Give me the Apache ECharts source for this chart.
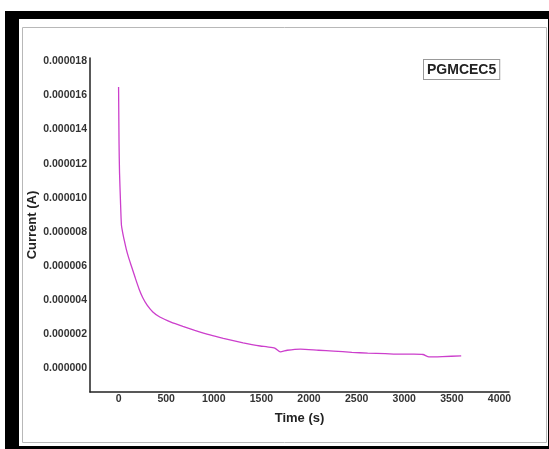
<!DOCTYPE html>
<html>
<head>
<meta charset="utf-8">
<title>PGMCEC5</title>
<script src="https://cdn.jsdelivr.net/npm/echarts@6/dist/echarts.min.js"></script>
<style>
  html, body { margin: 0; padding: 0; background: #fff; }
  #chart { width: 549px; height: 449px; }
</style>
</head>
<body>
<div id="chart"></div>
<script>
// chronoamperometry curve
const timeS = [0, 5, 10, 20, 30, 45, 60, 80, 105, 137, 175, 215, 253, 300, 360, 433, 550, 675, 800, 960, 1100, 1308, 1400, 1488, 1561, 1640, 1699, 1772, 1910, 2100, 2258, 2450, 2616, 2800, 2965, 3100, 3197, 3260, 3400, 3598]
const currentA = [16.5e-6, 13.2e-6, 11.5e-6, 9.8e-6, 8.4e-6, 7.9e-6, 7.5e-6, 7.0e-6, 6.5e-6, 5.95e-6, 5.3e-6, 4.65e-6, 4.15e-6, 3.7e-6, 3.3e-6, 3.0e-6, 2.7e-6, 2.45e-6, 2.22e-6, 1.95e-6, 1.75e-6, 1.48e-6, 1.38e-6, 1.3e-6, 1.25e-6, 1.18e-6, 0.95e-6, 1.05e-6, 1.12e-6, 1.05e-6, 1.0e-6, 0.93e-6, 0.88e-6, 0.85e-6, 0.82e-6, 0.82e-6, 0.8e-6, 0.66e-6, 0.68e-6, 0.72e-6]
const xTicks = [0, 500, 1000, 1500, 2000, 2500, 3000, 3500, 4000]
const yTicks = [0, 2e-6, 4e-6, 6e-6, 8e-6, 10e-6, 12e-6, 14e-6, 16e-6, 18e-6]
const seriesName = 'PGMCEC5'

const font = "'Liberation Sans', Arial, sans-serif"
const chart = echarts.init(document.getElementById('chart'))

chart.setOption({
  animation: false,
  // black frame + white panel, like the scanned figure
  graphic: [
    { type: 'rect', z: -10, shape: { x: 5, y: 11, width: 544, height: 438 }, style: { fill: '#000' } },
    { type: 'rect', z: -9, shape: { x: 19, y: 19, width: 529, height: 427 }, style: { fill: '#fff' } },
    { type: 'rect', z: -8, shape: { x: 22.5, y: 27.5, width: 524, height: 415 }, style: { fill: 'none', stroke: '#b8b8b8', lineWidth: 1 } },
    {
      type: 'text', left: 423, top: 59, z: 10,
      style: { text: seriesName, font: 'bold 14px ' + font, fill: '#222', padding: [3, 3, 2, 3], borderColor: '#999', borderWidth: 1, backgroundColor: '#fff' }
    }
  ],
  grid: { left: 90, top: 58, right: 40, bottom: 57 },
  xAxis: {
    type: 'value',
    min: -300,
    max: 4100,
    name: 'Time (s)',
    nameLocation: 'middle',
    nameGap: 20,
    nameTextStyle: { fontFamily: font, fontWeight: 'bold', fontSize: 13, color: '#222' },
    axisLine: { show: true, onZero: false, lineStyle: { color: '#222', width: 1.5 } },
    axisTick: { show: false },
    splitLine: { show: false },
    axisLabel: {
      customValues: xTicks,
      margin: 2,
      formatter: v => String(v),
      fontFamily: font, fontWeight: 'bold', fontSize: 10.5, color: '#333'
    }
  },
  yAxis: {
    type: 'value',
    min: -1.4e-6,
    max: 18.2e-6,
    name: 'Current (A)',
    nameLocation: 'middle',
    nameGap: 51,
    nameMoveOverlap: false,
    nameTextStyle: { fontFamily: font, fontWeight: 'bold', fontSize: 13, color: '#222' },
    axisLine: { show: true, onZero: false, lineStyle: { color: '#222', width: 1.5 } },
    axisTick: { show: false },
    splitLine: { show: false },
    axisLabel: {
      customValues: yTicks,
      margin: 3,
      formatter: v => v.toFixed(6),
      fontFamily: font, fontWeight: 'bold', fontSize: 10.5, color: '#333'
    }
  },
  series: [{
    name: seriesName,
    type: 'line',
    showSymbol: false,
    smooth: 0.2,
    data: timeS.map((t, i) => [t, currentA[i]]),
    lineStyle: { color: '#cc3fcc', width: 1.3 }
  }]
})
</script>
</body>
</html>
